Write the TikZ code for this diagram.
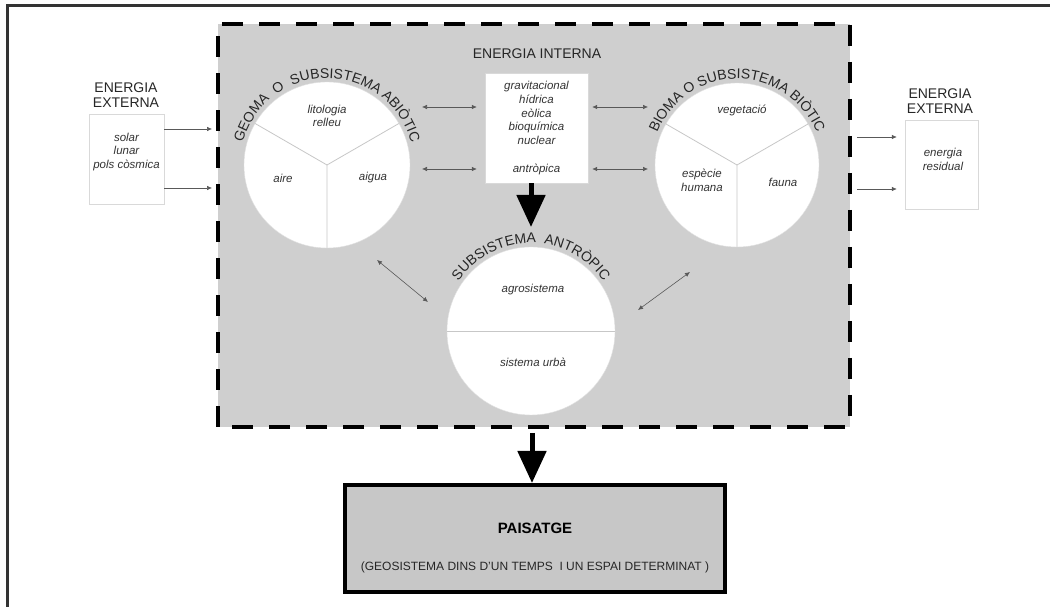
\documentclass[tikz,border=0pt]{standalone}
\usepackage{fontspec}
\setmainfont{Liberation Sans}
\usetikzlibrary{calc,arrows.meta,decorations.text}
\def\arctext[#1](#2)(#3:#4:#5)#6{\path[decorate,decoration={text along path,text align=center,text={|#1|#6}}] ($(#2)+({#5*cos(#3)},{#5*sin(#3)})$) arc (#3:#4:#5);}

\begin{document}
\begin{tikzpicture}[x=1pt,y=1pt,
    thinbox/.style={draw=black!15,fill=white,inner sep=0pt},
    capslbl/.style={font=\fontsize{14}{15}\selectfont,text=black!85,align=center},
    itlbl/.style={font=\fontsize{11.5}{13.7}\selectfont\itshape,text=black!80,align=center},
    part/.style={circle,fill=white,draw=black!12,inner sep=0pt,outer sep=0pt,minimum size=#1},
    splitline/.style={draw=black!22,line width=0.8pt},
    flow/.style={-{Latex[length=5pt,width=4.5pt]},draw=black!65,line width=0.6pt},
    swap/.style={{Latex[length=5pt,width=4.5pt]}-{Latex[length=5pt,width=4.5pt]},draw=black!65,line width=0.6pt},
    bigflow/.style={-{Triangle[length=32pt,width=28pt]},line width=5pt}]
			%%%%% START %%%%%
			\useasboundingbox (0,0) rectangle (1050,607);
			
			\draw[line width=3pt, color=black!80] (7,0) -- (7,601) -- (1050,601);
			\draw[fill=black!19, line width=4pt, dash pattern=on 21pt off 16pt] (218,180) rectangle (850,583);
			
			% energia externa
			\node[capslbl] (extLt) at (126,511.5) {ENERGIA\\EXTERNA};
			\node[thinbox, minimum width=75pt, minimum height=90pt] (extL) at (126.5,448) {};
			\node[itlbl] (extLtx) at (126.5,455) {solar\\lunar\\pols còsmica};
			
			\node[capslbl] (extRt) at (940,505.5) {ENERGIA\\EXTERNA};
			\node[thinbox, minimum width=73pt, minimum height=89pt] (extR) at (941.5,442.5) {};
			\node[itlbl] (extRtx) at (943,447.5) {energia\\residual};
			
			% energia interna
			\node[capslbl] (intt) at (537,553) {ENERGIA INTERNA};
			\node[thinbox, itlbl, minimum width=103pt, minimum height=110pt] (intern) at (536.5,479) {gravitacional\\hídrica\\eòlica\\bioquímica\\nuclear\\[13.7pt]antròpica};
			
			% geoma
			\node[part=166pt] (geoma) at (327,442) {};
			\draw[splitline] (geoma.center) -- (geoma.150) (geoma.center) -- (geoma.30) (geoma.center) -- (geoma.270);
			\node[itlbl] (lit) at (327,491) {litologia\\relleu};
			\node[itlbl] (aire) at (283,429) {aire};
			\node[itlbl] (aigua) at (373,429) {aigua};
			\arctext[\fontsize{14}{14}\selectfont\color{black!85}](geoma)(178:2:87){GEOMA{\ }{\ }O{\ }{\ }SUBSISTEMA ABIÒTIC}
			
			% bioma
			\node[part=164pt] (bioma) at (737,442) {};
			\draw[splitline] (bioma.center) -- (bioma.150) (bioma.center) -- (bioma.30) (bioma.center) -- (bioma.270);
			\node[itlbl] (veg) at (742,497) {vegetació};
			\node[itlbl] (hum) at (702,427) {espècie\\humana};
			\node[itlbl] (fauna) at (783,425) {fauna};
			\arctext[\fontsize{14}{14}\selectfont\color{black!85}](bioma)(178:2:86){BIOMA O SUBSISTEMA BIÒTIC}
			
			% antropic
			\node[part=168pt] (antrop) at (531,276) {};
			\draw[splitline] (antrop.west) -- (antrop.east);
			\node[itlbl] (agro) at (533,317) {agrosistema};
			\node[itlbl] (urba) at (533,245) {sistema urbà};
			\arctext[\fontsize{14}{14}\selectfont\color{black!85}](antrop)(178:2:88){SUBSISTEMA{\ }{\ }ANTRÒPIC}
			
			% fluxos
			\coordinate (sysL1) at (212,478);
			\coordinate (sysL2) at (212,419);
			\coordinate (sysR1) at (857,470);
			\coordinate (sysR2) at (857,418);
			\draw[flow] (extL.east |- sysL1) -- (sysL1);
			\draw[flow] (extL.east |- sysL2) -- (sysL2);
			\draw[flow, shorten >=8pt] (sysR1) -- (extR.west |- sysR1);
			\draw[flow, shorten >=8pt] (sysR2) -- (extR.west |- sysR2);
			
			\coordinate (ga1) at (422,500);
			\coordinate (ga2) at (422,438);
			\coordinate (ba1) at (648,500);
			\coordinate (ba2) at (648,438);
			\draw[swap, shorten >=8pt] (ga1) -- (ga1 -| intern.west);
			\draw[swap, shorten >=8pt] (ga2) -- (ga2 -| intern.west);
			\draw[swap, shorten <=4pt] (ba1 -| intern.east) -- (ba1);
			\draw[swap, shorten <=4pt] (ba2 -| intern.east) -- (ba2);
			
			\coordinate (ga3) at (377,347);
			\coordinate (ag3) at (428,305);
			\coordinate (ab3) at (638,297);
			\coordinate (ba3) at (690,335);
			\draw[swap] (ga3) -- (ag3);
			\draw[swap] (ab3) -- (ba3);
			
			\coordinate (antropin) at (531,380);
			\draw[bigflow] (antropin |- intern.south) -- (antropin);
			
			% paisatge
			\node[draw, line width=4pt, fill=black!22, minimum width=380pt, minimum height=107pt] (paisatge) at (535,68.5) {};
			\node[font=\fontsize{15}{15}\selectfont\bfseries] (paistit) at (535,79) {PAISATGE};
			\node[font=\fontsize{12}{12}\selectfont, text=black!85] (paissub) at (535,40) {(GEOSISTEMA DINS D'UN TEMPS~~I UN ESPAI DETERMINAT )};
			
			\coordinate (sysout) at (532,174);
			\draw[bigflow] (sysout) -- (sysout |- paisatge.north);
			%%%%% END %%%%%
\end{tikzpicture}
\end{document}
